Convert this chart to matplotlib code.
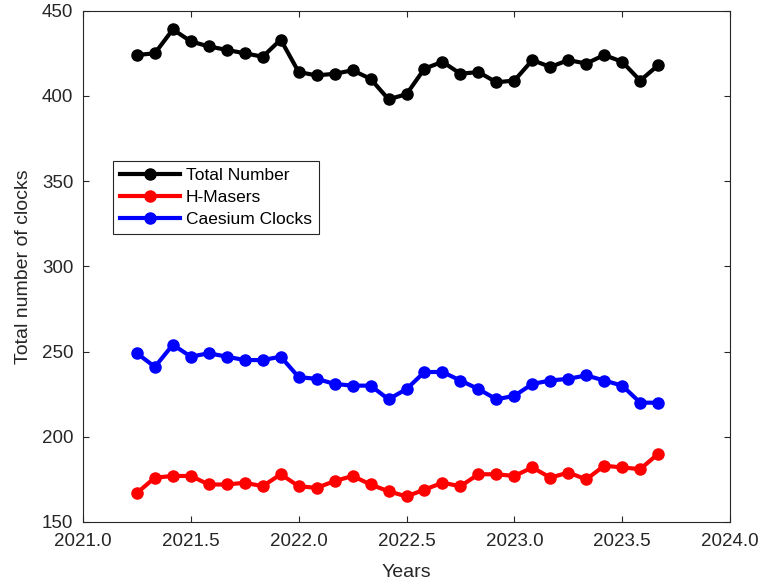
import matplotlib.pyplot as plt
import numpy as np

# monthly samples starting April 2021
years = 2021.25 + np.arange(30) / 12

total_number = [424, 425, 439, 432, 429, 427, 425, 423, 433, 414,
                412, 413, 415, 410, 398, 401, 416, 420, 413, 414,
                408, 409, 421, 417, 421, 419, 424, 420, 409, 418]
h_masers = [167, 176, 177, 177, 172, 172, 173, 171, 178, 171,
            170, 174, 177, 172, 168, 165, 169, 173, 171, 178,
            178, 177, 182, 176, 179, 175, 183, 182, 181, 190]
caesium = [249, 241, 254, 247, 249, 247, 245, 245, 247, 235,
           234, 231, 230, 230, 222, 228, 238, 238, 233, 228,
           222, 224, 231, 233, 234, 236, 233, 230, 220, 220]

plt.rcParams['font.family'] = ['Liberation Sans', 'DejaVu Sans']

fig = plt.figure(figsize=(7.64, 5.84), dpi=100)
ax = fig.add_axes([0.1086, 0.1062, 0.847, 0.8755])

style = dict(linewidth=3, marker='o', markersize=8)
ax.plot(years, total_number, color='black', label='Total Number', **style)
ax.plot(years, h_masers, color='#ff0000', label='H-Masers', **style)
ax.plot(years, caesium, color='#0000ff', label='Caesium Clocks', **style)

ax.set_xlim(2021.0, 2024.0)
ax.set_ylim(150, 450)
ax.set_xticks(np.arange(2021.0, 2024.01, 0.5))
ax.set_xticklabels([f'{v:.1f}' for v in np.arange(2021.0, 2024.01, 0.5)])
ax.set_yticks(np.arange(150, 451, 50))

ax.tick_params(direction='in', top=True, right=True, length=4.5,
               width=0.8, labelsize=13.5, colors='#262626')
ax.tick_params(axis='x', pad=8)
ax.tick_params(axis='y', pad=7)
for side in ax.spines.values():
    side.set_color('#262626')
    side.set_linewidth(0.8)

ax.set_xlabel('Years', fontsize=14, color='#262626', labelpad=10)
ax.set_ylabel('Total number of clocks', fontsize=14, color='#262626', labelpad=7)

leg = ax.legend(loc='upper left', bbox_to_anchor=(0.046, 0.706),
                borderaxespad=0, fontsize=12.5, handlelength=3.5,
                handletextpad=0.3, labelspacing=0.4, fancybox=False,
                edgecolor='#262626', framealpha=1)
leg.get_frame().set_linewidth(0.8)

fig.savefig('out.png', dpi=100)
